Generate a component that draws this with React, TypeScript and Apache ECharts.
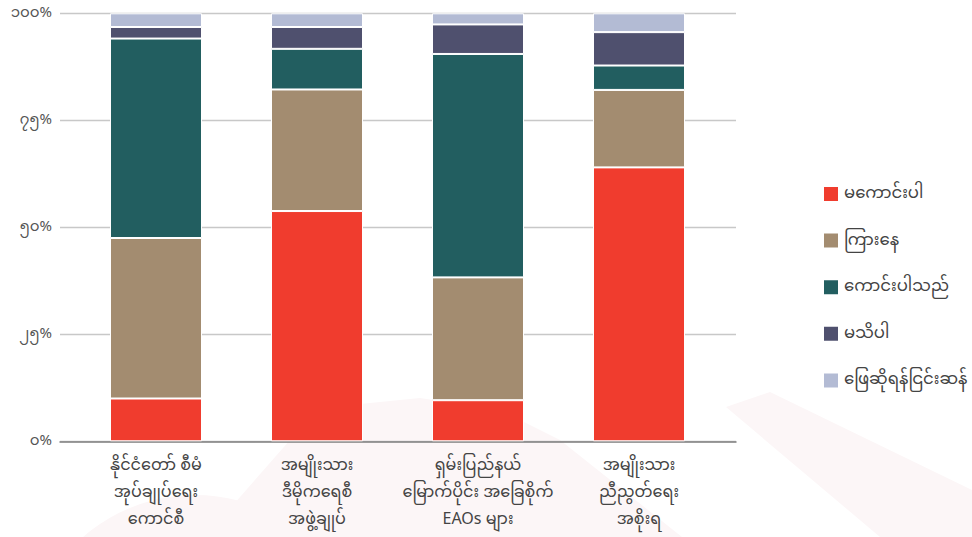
import React, { useEffect, useRef } from "react";
import * as echarts from "echarts";

const categories = [
  "နိုင်ငံတော် စီမံ\nအုပ်ချုပ်ရေး\nကောင်စီ",
  "အမျိုးသား\nဒီမိုကရေစီ\nအဖွဲ့ချုပ်",
  "ရှမ်းပြည်နယ်\nမြောက်ပိုင်း အခြေစိုက်\nEAOs များ",
  "အမျိုးသား\nညီညွတ်ရေး\nအစိုးရ",
];

const seriesNames = ["မကောင်းပါ", "ကြားနေ", "ကောင်းပါသည်", "မသိပါ", "ဖြေဆိုရန်ငြင်းဆန်"];
const badValues = [10.0, 53.8, 9.6, 64.0];
const neutralValues = [37.5, 28.4, 28.7, 18.1];
const goodValues = [46.6, 9.5, 52.2, 5.7];
const dontKnowValues = [2.7, 5.1, 6.9, 7.8];
const refusedValues = [3.2, 3.2, 2.6, 4.4];
const yTickLabels = ["၀%", "၂၅%", "၅၀%", "၇၅%", "၁၀၀%"];

const colors = ["#f03c2e", "#a38c70", "#225e60", "#4f506e", "#b3bbd4"];
const FONT = "'Noto Sans Myanmar', 'Noto Sans', Roboto, sans-serif";

export default function App() {
  const ref = useRef<HTMLDivElement>(null);
  useEffect(() => {
    if (!ref.current) return;
    const chart = echarts.init(ref.current, null, { renderer: "svg" });
    const values = [badValues, neutralValues, goodValues, dontKnowValues, refusedValues];
    const wm = "#fcf6f7";
    chart.setOption({
      animation: false,
      backgroundColor: "#ffffff",
      textStyle: { fontFamily: FONT },
      graphic: [
        { type: "circle", z: -10, silent: true, shape: { cx: 195, cy: 665, r: 170 }, style: { fill: wm } },
        {
          type: "polygon", z: -10, silent: true,
          shape: { points: [[205, 537], [290, 440], [350, 405], [420, 398], [500, 410], [560, 440], [682, 537]] },
          style: { fill: wm },
        },
        {
          type: "polygon", z: -10, silent: true,
          shape: { points: [[726, 407], [770, 392], [972, 490], [972, 537], [880, 537]] },
          style: { fill: wm },
        },
      ],
      legend: {
        orient: "vertical",
        left: 817,
        top: 180,
        itemWidth: 16,
        itemHeight: 16,
        itemGap: 28.6,
        icon: "rect",
        textStyle: { fontSize: 16.5, color: "#444", fontFamily: FONT, lineHeight: 16 },
        data: seriesNames,
      },
      grid: [
        { left: 60, top: 13.3, width: 676, height: 428 },
        { left: 75.5, top: 13.3, width: 644, height: 428 },
      ],
      xAxis: [
        {
          type: "category", gridIndex: 0, data: [""],
          axisLine: { show: true, lineStyle: { color: "#808080", width: 1.5 } },
          axisTick: { show: false }, axisLabel: { show: false },
        },
        {
          type: "category", gridIndex: 1, data: categories,
          axisLine: { show: false }, axisTick: { show: false },
          axisLabel: { margin: 12, fontSize: 16, color: "#444", lineHeight: 27, fontFamily: FONT, interval: 0 },
        },
      ],
      yAxis: [
        {
          type: "value", gridIndex: 0, min: 0, max: 100, interval: 25,
          axisLine: { show: false }, axisTick: { show: false },
          axisLabel: {
            margin: 8, fontSize: 15, color: "#555", fontFamily: FONT,
            formatter: (v: number) => yTickLabels[Math.round(v / 25)],
          },
          splitLine: { lineStyle: { color: "#c8c8c8", width: 1.3 } },
        },
        {
          type: "value", gridIndex: 1, min: 0, max: 100, show: false,
          splitLine: { show: false },
        },
      ],
      series: seriesNames.map((name, i) => ({
        name,
        type: "bar",
        stack: "total",
        xAxisIndex: 1,
        yAxisIndex: 1,
        barWidth: 92,
        data: values[i],
        itemStyle: { color: colors[i], borderColor: "#ffffff", borderWidth: 1 },
      })),
    });
    return () => chart.dispose();
  }, []);
  return (
    <div
      ref={ref}
      style={{ position: "fixed", left: 0, top: 0, width: 972, height: 537 }}
    />
  );
}
